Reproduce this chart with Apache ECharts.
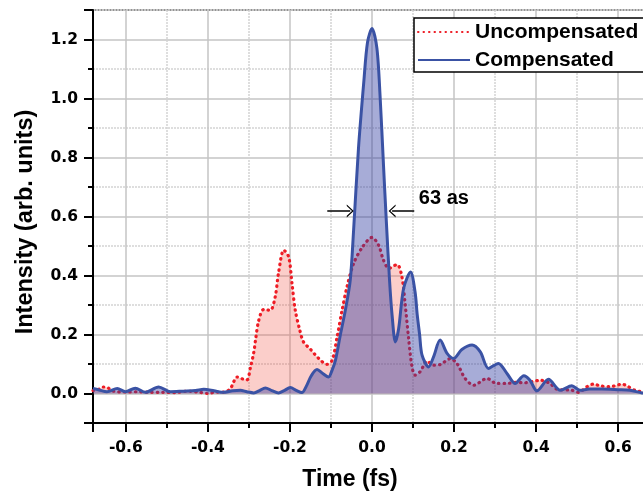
<!DOCTYPE html>
<html><head><meta charset="utf-8">
<script src="https://cdn.jsdelivr.net/npm/echarts@6/dist/echarts.min.js"></script>
<style>html,body{margin:0;padding:0;background:#fff}#c{width:643px;height:496px}</style>
</head><body><div id="c"></div><script>
// ---- data ----
const seriesNames = ['Uncompensated', 'Compensated'];
const timeUncomp = [-0.68,-0.665,-0.655,-0.645,-0.63,-0.6,-0.57,-0.54,-0.51,-0.48,-0.45,-0.42,-0.4,-0.38,-0.36,-0.345,-0.337,-0.329,-0.317,-0.305,-0.296,-0.288,-0.284,-0.276,-0.264,-0.248,-0.236,-0.228,-0.215,-0.203,-0.195,-0.187,-0.176,-0.167,-0.15,-0.13,-0.11,-0.097,-0.085,-0.073,-0.061,-0.045,-0.024,0,0.016,0.028,0.041,0.053,0.062,0.073,0.081,0.089,0.097,0.105,0.118,0.134,0.15,0.166,0.191,0.207,0.227,0.248,0.28,0.304,0.329,0.35,0.37,0.39,0.41,0.434,0.45,0.487,0.503,0.524,0.54,0.556,0.58,0.597,0.609,0.621,0.641,0.66,0.68];
const uncompensated = [0.01,0.015,0.022,0.02,0.008,0.005,0.006,0.004,0.004,0.003,0.008,0.004,0.0,0.005,0.005,0.017,0.04,0.056,0.05,0.046,0.09,0.14,0.18,0.248,0.285,0.282,0.327,0.407,0.486,0.463,0.373,0.282,0.215,0.175,0.15,0.119,0.099,0.113,0.192,0.282,0.361,0.44,0.495,0.529,0.503,0.452,0.424,0.433,0.437,0.395,0.3,0.19,0.095,0.062,0.075,0.11,0.096,0.098,0.118,0.102,0.051,0.028,0.051,0.034,0.034,0.038,0.036,0.04,0.045,0.034,0.015,0.011,0.004,0.023,0.032,0.026,0.023,0.028,0.032,0.026,0.011,0.006,0.005];
const timeComp = [-0.68,-0.665,-0.646,-0.621,-0.601,-0.577,-0.552,-0.52,-0.491,-0.46,-0.43,-0.41,-0.385,-0.362,-0.34,-0.321,-0.305,-0.288,-0.274,-0.26,-0.244,-0.228,-0.214,-0.199,-0.185,-0.171,-0.16,-0.148,-0.134,-0.12,-0.106,-0.097,-0.089,-0.077,-0.065,-0.053,-0.045,-0.033,-0.02,-0.011,0,0.012,0.02,0.028,0.035,0.043,0.049,0.057,0.065,0.077,0.094,0.105,0.11,0.116,0.122,0.138,0.15,0.166,0.183,0.199,0.219,0.244,0.264,0.284,0.308,0.329,0.349,0.37,0.385,0.402,0.43,0.459,0.487,0.507,0.53,0.56,0.6,0.629,0.658,0.68];
const compensated = [0.017,0.012,0.006,0.017,0.006,0.018,0.004,0.022,0.006,0.008,0.01,0.014,0.009,0.004,0.009,0.011,0.006,0.002,0.01,0.019,0.01,0.002,0.01,0.02,0.011,0.003,0.025,0.06,0.081,0.068,0.056,0.08,0.113,0.2,0.282,0.384,0.55,0.83,1.056,1.19,1.237,1.17,1.0,0.774,0.582,0.378,0.265,0.175,0.22,0.356,0.412,0.344,0.27,0.2,0.13,0.09,0.124,0.181,0.136,0.119,0.149,0.164,0.141,0.085,0.102,0.068,0.034,0.06,0.045,0.009,0.048,0.011,0.026,0.011,0.015,0.015,0.013,0.011,0.002,0.0];
// axis ranges
const xRange = [-0.68, 0.68];
const yRange = [-0.1, 1.3];
// FWHM annotation (data coordinates)
const fwhmLabel = '63 as';
const arrowY = 0.619;
const arrowLeftX = [-0.109, -0.053];
const arrowRightX = [0.103, 0.049];
const labelPos = [0.113, 0.66];

const pairs = (xs, ys) => xs.map((x, i) => [x, ys[i]]);
const chevron = 'path://M0,10 L10,0 L20,10 L17.5,10 L10,2.5 L2.5,10 Z';

const chart = echarts.init(document.getElementById('c'), null, {renderer: 'canvas'});
const tickFont = {fontFamily: 'DejaVu Sans', fontWeight: 'bold', fontSize: 15.5, color: '#000'};
chart.setOption({
  animation: false,
  backgroundColor: '#fff',
  grid: {left: 93, top: 10, width: 558, bottom: 73, show: true, borderColor: '#000', borderWidth: 2,
    containLabel: false, outerBoundsMode: 'none'},
  legend: {
    orient: 'vertical', left: 414, top: 18,
    data: seriesNames,
    itemWidth: 52, itemHeight: 14, itemGap: 6,
    padding: [3, 8, 1, 3],
    borderColor: '#000', borderWidth: 1.5, backgroundColor: '#fff',
    itemStyle: {opacity: 0},
    textStyle: {fontFamily: 'Liberation Sans', fontWeight: 'bold', fontSize: 21, color: '#000', lineHeight: 22},
    selectedMode: false
  },
  xAxis: {
    type: 'value', min: xRange[0], max: xRange[1], splitNumber: 7,
    axisLine: {onZero: false, lineStyle: {color: '#000', width: 2}},
    axisTick: {length: 9, lineStyle: {color: '#000', width: 2}},
    minorTick: {show: true, splitNumber: 2, length: 5, lineStyle: {color: '#000', width: 2}},
    splitLine: {show: true, lineStyle: {color: '#c4c4c4', width: 1.5}},
    minorSplitLine: {show: true, lineStyle: {color: '#d4d4d4', width: 1.5, type: [2, 1]}},
    axisLabel: Object.assign({margin: 17, showMinLabel: false, showMaxLabel: false, formatter: v => v.toFixed(1)}, tickFont)
  },
  yAxis: {
    type: 'value', min: yRange[0], max: yRange[1], splitNumber: 7,
    axisLine: {onZero: false, lineStyle: {color: '#000', width: 2}},
    axisTick: {length: 9, lineStyle: {color: '#000', width: 2}},
    minorTick: {show: true, splitNumber: 2, length: 5, lineStyle: {color: '#000', width: 2}},
    splitLine: {show: true, lineStyle: {color: '#c4c4c4', width: 1.5}},
    minorSplitLine: {show: true, lineStyle: {color: '#d4d4d4', width: 1.5, type: [2, 1]}},
    axisLabel: Object.assign({margin: 15, showMinLabel: false, showMaxLabel: false, formatter: v => v.toFixed(1)}, tickFont)
  },
  graphic: [
    {type: 'text', x: 350, y: 480, style: {text: 'Time (fs)', align: 'center', verticalAlign: 'middle',
      font: 'bold 23px "Liberation Sans"', fill: '#000'}},
    {type: 'text', x: 26, y: 222, rotation: Math.PI / 2, style: {text: 'Intensity (arb. units)', align: 'center', verticalAlign: 'middle',
      font: 'bold 23.5px "Liberation Sans"', fill: '#000'}}
  ],
  series: [
    {
      name: seriesNames[0], type: 'line', data: pairs(timeUncomp, uncompensated),
      showSymbol: false, symbol: 'none', smooth: 0.3,
      lineStyle: {color: '#ee1c25', width: 3.2, type: [0.5, 5], cap: 'round'},
      itemStyle: {color: '#ee1c25'},
      areaStyle: {color: 'rgba(240,90,75,0.42)', origin: 0},
      z: 2
    },
    {
      name: seriesNames[1], type: 'line', data: pairs(timeComp, compensated),
      showSymbol: false, symbol: 'none', smooth: 0.3,
      lineStyle: {color: '#3a52a4', width: 3},
      itemStyle: {color: '#3a52a4'},
      areaStyle: {color: 'rgba(45,58,160,0.6)', origin: 0},
      z: 3,
      markLine: {
        silent: true, animation: false,
        symbol: ['none', chevron], symbolSize: [13, 7],
        lineStyle: {color: '#000', width: 1.5, type: 'solid'},
        label: {show: false},
        data: [
          [{coord: [arrowLeftX[0], arrowY]}, {coord: [arrowLeftX[1], arrowY]}],
          [{coord: [arrowRightX[0], arrowY]}, {coord: [arrowRightX[1], arrowY]}]
        ]
      },
      markPoint: {
        silent: true, animation: false,
        symbol: 'circle', symbolSize: 1, itemStyle: {color: 'rgba(0,0,0,0)'},
        label: {show: true, position: 'right', distance: 0, formatter: fwhmLabel,
          fontFamily: 'Liberation Sans', fontWeight: 'bold', fontSize: 20, color: '#000'},
        data: [{coord: labelPos}]
      }
    }
  ]
});
</script></body></html>
